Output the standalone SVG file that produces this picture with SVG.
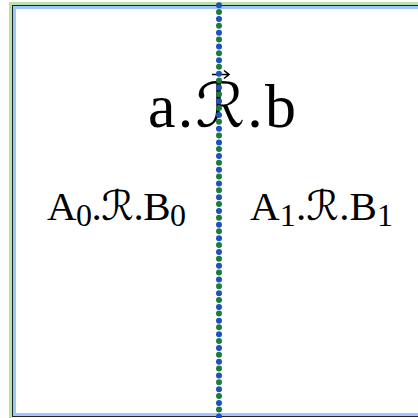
<svg xmlns="http://www.w3.org/2000/svg" width="418" height="418" viewBox="0 0 418 418">
<style>
.lbl{font-family:"Liberation Serif","DejaVu Serif",serif;fill:#000}
.cal{font-family:"DejaVu Serif","DejaVu Sans","Noto Sans",serif}
.sub{font-size:0.78em}
</style>
<rect width="418" height="418" fill="#fff"/>
<g id="frame" fill="none">
<rect x="10.5" y="3.5" width="420" height="420" stroke="#b9e2a8" stroke-width="3"/>
<rect x="12.5" y="5.5" width="420" height="411" stroke="#222" stroke-width="1"/>
<rect x="14.5" y="7.5" width="420" height="407" stroke="#9fc5ff" stroke-width="3"/>
</g>
<g id="title">
<text class="lbl" x="148" y="127" font-size="62" textLength="148" lengthAdjust="spacing">a.<tspan class="cal">ℛ</tspan>.b</text>
<path d="M212,74.5 H228 M224,70.5 L229,74.5 L224,78.5" fill="none" stroke="#000" stroke-width="1.6"/>
</g>
<g id="left">
<text class="lbl" x="47" y="220" font-size="41" textLength="139" lengthAdjust="spacing">A<tspan class="sub" dy="6">0</tspan><tspan dy="-6">.</tspan><tspan class="cal">ℛ</tspan>.B<tspan class="sub" dy="6">0</tspan></text>
</g>
<g id="right">
<text class="lbl" x="250" y="220" font-size="41" textLength="143" lengthAdjust="spacing">A<tspan class="sub" dy="6">1</tspan><tspan dy="-6">.</tspan><tspan class="cal">ℛ</tspan>.B<tspan class="sub" dy="6">1</tspan></text>
</g>
<g id="connectors">
<line x1="219" y1="5.3" x2="219" y2="420" stroke="#1e4fc4" stroke-width="6" stroke-linecap="round" stroke-dasharray="0 13.71"/>
<line x1="219" y1="12" x2="219" y2="420" stroke="#1a7d3c" stroke-width="6" stroke-linecap="round" stroke-dasharray="0 13.71"/>
</g>
</svg>
